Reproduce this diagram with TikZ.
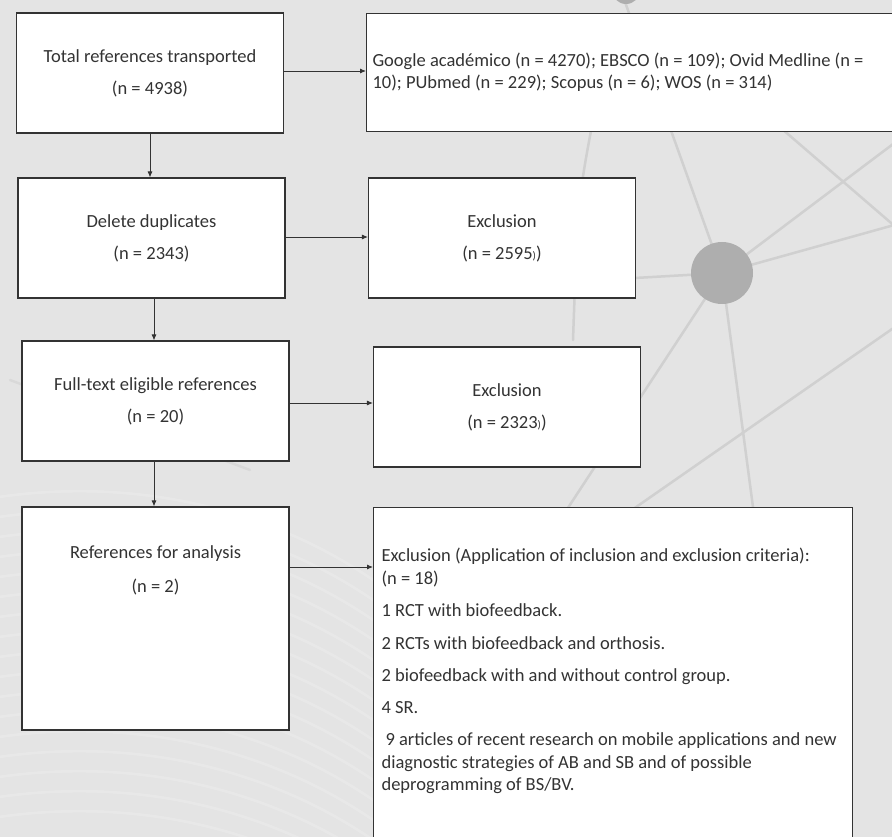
\documentclass[tikz,border=0pt]{standalone}
\usepackage{fontspec}
\setmainfont{Carlito}
\usetikzlibrary{arrows.meta}
\definecolor{bgc}{HTML}{E4E4E4}
\definecolor{netc}{HTML}{D0D0D0}
\definecolor{dotc}{HTML}{AEAEAE}
\definecolor{inkc}{HTML}{333333}
\tikzset{
  box/.style={draw=inkc, line width=1.1pt, fill=white, rectangle, inner sep=0pt,
    minimum width=267pt, minimum height=120pt, align=center, text=inkc,
    font=\fontsize{18.5}{32}\selectfont},
  conn/.style={draw=inkc, line width=0.9pt, -{Latex[length=6pt,width=5pt]}},
  net/.style={draw=netc, line width=2.5pt, line cap=round},
  stripe/.style={draw=white, opacity=0.18, line width=2.5pt}
}
\begin{document}
\begin{tikzpicture}[x=1pt,y=-1pt]
\useasboundingbox (0,0) rectangle (892,837);
\clip (0,0) rectangle (892,837);
% background
\fill[bgc] (0,0) rectangle (892,837);
% decorative stripes lower left
\foreach \k in {0,...,16} {
  \draw[stripe] (-20,{500+20*\k}) .. controls (150,{470+20*\k}) and (300,{520+20*\k}) .. (400,{600+20*\k});
}
% decorative network
\draw[net] (722,273) -- (610,-40);
\draw[net] (722,273) -- (905,135);
\draw[net] (722,273) -- (905,222);
\draw[net] (722,273) -- (760,560);
\draw[net] (722,273) -- (560,520);
\draw[net] (722,273) -- (600,280);
\draw[net] (760,110) -- (905,235);
\draw[net] (560,560) -- (905,320);
\draw[net] (593,120) .. controls (578,200) .. (573,340);
\draw[net, opacity=0.5] (10,380) -- (250,470);
\fill[dotc] (722,273) circle (31);
\fill[dotc] (626,-10) circle (14);
% boxes
\node[box] (total) at (150,73) {Total references transported\\(n = 4938)};
\node[box, minimum width=530pt, minimum height=118pt, anchor=north west] (src) at (366,13)
  {\begin{minipage}[c][116pt][t]{518pt}\raggedright\fontsize{18.5}{22}\selectfont
   \vspace*{38pt}
   Google académico (n = 4270); EBSCO (n = 109); Ovid Medline (n =\\
   10); PUbmed (n = 229); Scopus (n = 6); WOS (n = 314)
   \end{minipage}};
\node[box] (dup) at (151.5,238) {Delete duplicates\\(n = 2343)};
\node[box] (exc1) at (502,238) {Exclusion\\(n = 2595{\fontsize{11}{11}\selectfont )})};
\node[box] (full) at (155.5,401) {Full-text eligible references\\(n = 20)};
\node[box] (exc2) at (507,407) {Exclusion\\(n = 2323{\fontsize{11}{11}\selectfont )})};
\node[box, minimum height=223pt] (ana) at (155.5,618.5)
  {\begin{minipage}[c][221pt][t]{265pt}\centering\fontsize{18.5}{34}\selectfont
   \vspace*{38pt}
   References for analysis\\(n = 2)
   \end{minipage}};
\node[box, anchor=north west, minimum width=479pt, minimum height=350pt, align=left, inner xsep=8pt] (exc3) at (373,507)
  {\begin{minipage}[t][345pt][t]{463pt}\fontsize{18.5}{22.5}\selectfont
   \vspace*{38pt}
   Exclusion (Application of inclusion and exclusion criteria):\\[0.5pt]
   (n = 18)\\[9.5pt]
   1 RCT with biofeedback.\\[10pt]
   2 RCTs with biofeedback and orthosis.\\[9.5pt]
   2 biofeedback with and without control group.\\[9.5pt]
   4 SR.\\[10pt]
   \hspace*{4pt}9 articles of recent research on mobile applications and new\\
   diagnostic strategies of AB and SB and of possible\\
   deprogramming of BS/BV.
   \end{minipage}};
% connectors
\draw[conn] (total.east |- 0,71) -- (src.west |- 0,71);
\draw[conn] (total.south) -- (total.south |- dup.north);
\draw[conn] (dup.east |- 0,237) -- (exc1.west |- 0,237);
\draw[conn] (dup.south -| 154,0) -- (154,0 |- full.north);
\draw[conn] (full.east |- 0,403) -- (exc2.west |- 0,403);
\draw[conn] (full.south -| 154,0) -- (154,0 |- ana.north);
\draw[conn] (ana.east |- 0,567) -- (exc3.west |- 0,567);
\end{tikzpicture}
\end{document}
